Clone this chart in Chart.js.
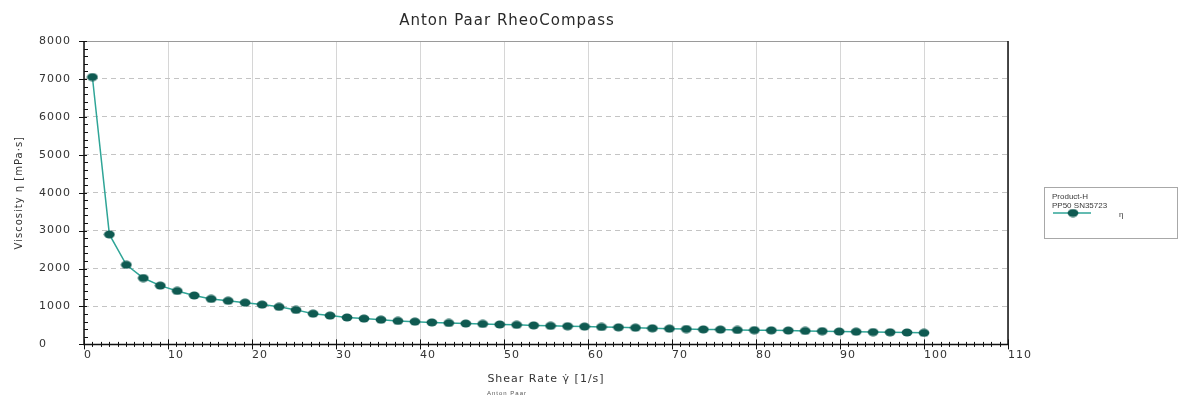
<!DOCTYPE html>
<html>
<head>
<meta charset="utf-8">
<script src="https://cdn.jsdelivr.net/npm/chart.js@4/dist/chart.umd.min.js"></script>
<style>
  html, body { margin: 0; padding: 0; background: #fff; }
  #wrap { width: 1185px; height: 401px; }
</style>
</head>
<body>
<div id="wrap"><canvas id="rheoChart" width="1185" height="401"></canvas></div>
<script>
// shear rate [1/s]
const shearRate = [1, 3.02, 5.04, 7.06, 9.08, 11.1, 13.12, 15.14, 17.16, 19.18,
  21.2, 23.22, 25.24, 27.27, 29.29, 31.31, 33.33, 35.35, 37.37, 39.39,
  41.41, 43.43, 45.45, 47.47, 49.49, 51.51, 53.53, 55.55, 57.57, 59.59,
  61.61, 63.63, 65.65, 67.67, 69.69, 71.71, 73.73, 75.76, 77.78, 79.8,
  81.82, 83.84, 85.86, 87.88, 89.9, 91.92, 93.94, 95.96, 97.98, 100];
// viscosity [mPa·s]
const viscosity = [7050, 2900, 2100, 1750, 1550, 1410, 1290, 1200, 1150, 1100,
  1050, 990, 910, 810, 760, 710, 680, 650, 620, 600,
  580, 565, 550, 540, 525, 515, 500, 490, 480, 470,
  460, 450, 440, 425, 415, 405, 395, 390, 380, 375,
  370, 365, 355, 350, 340, 335, 325, 320, 315, 305];
const legendLines = ['Product-H', 'PP50 SN35723'];

const FONT = '"DejaVu Sans", "Liberation Sans", sans-serif';
const SMALL = '"Liberation Sans", Arial, sans-serif';
const lineColor = '#2fa597';
const markColor = '#0f5a51';

// slightly flattened dot, like the exported picture
const dot = document.createElement('canvas');
dot.width = 12; dot.height = 9;
(function () {
  const d = dot.getContext('2d');
  d.fillStyle = markColor;
  d.beginPath(); d.ellipse(6, 4.5, 5.4, 4, 0, 0, Math.PI * 2); d.fill();
})();

// stretched look of the text
const spacing = {
  id: 'spacing',
  beforeUpdate(chart) { chart.ctx.letterSpacing = '1px'; },
  beforeDraw(chart) { chart.ctx.letterSpacing = '1px'; }
};

// minor ticks, frame and legend box
const decor = {
  id: 'decor',
  afterDraw(chart) {
    const c = chart.ctx, a = chart.chartArea;
    const xs = chart.scales.x, ys = chart.scales.y;
    c.save();
    c.letterSpacing = '0px';
    c.lineWidth = 1;
    c.strokeStyle = '#9a9a9a';
    c.beginPath(); c.moveTo(a.left, a.top + 0.5); c.lineTo(a.right, a.top + 0.5); c.stroke();
    c.strokeStyle = '#111';
    c.lineWidth = 1.5;
    c.beginPath();
    c.moveTo(a.right, a.top); c.lineTo(a.right, a.bottom);
    c.moveTo(a.left, a.top); c.lineTo(a.left, a.bottom); c.lineTo(a.right, a.bottom);
    c.stroke();
    c.lineWidth = 1;
    c.beginPath();
    for (let v = 0; v <= 110; v += 1) {
      const px = Math.round(xs.getPixelForValue(v)) + 0.5;
      const len = v % 10 === 0 ? 5 : 2.5;
      c.moveTo(px, a.bottom - len); c.lineTo(px, a.bottom + len);
    }
    for (let v = 0; v <= 8000; v += 200) {
      const py = Math.round(ys.getPixelForValue(v)) + 0.5;
      if (v % 1000 === 0) { c.moveTo(a.left - 5, py); c.lineTo(a.left + 3, py); }
      else { c.moveTo(a.left, py); c.lineTo(a.left + 4, py); }
    }
    c.stroke();

    // legend
    const ds = chart.data.datasets[0];
    const bx = 1044, by = 187, bw = 133, bh = 51;
    c.strokeStyle = '#a8a8a8';
    c.strokeRect(bx + 0.5, by + 0.5, bw, bh);
    c.fillStyle = '#3a3a3a';
    c.font = '8px ' + SMALL;
    c.textBaseline = 'middle';
    c.textAlign = 'left';
    legendLines.forEach((t, i) => c.fillText(t, bx + 8, by + 10 + i * 9));
    const ly = by + 26;
    c.strokeStyle = ds.borderColor;
    c.lineWidth = 1.5;
    c.beginPath(); c.moveTo(bx + 9, ly); c.lineTo(bx + 47, ly); c.stroke();
    c.drawImage(dot, bx + 23, ly - 4.5);
    c.fillText(ds.label, bx + 75, ly + 2);
    c.restore();
  }
};

const ctx = document.getElementById('rheoChart');

new Chart(ctx, {
  type: 'scatter',
  data: {
    datasets: [{
      label: 'η',
      data: shearRate.map((x, i) => ({ x: x, y: viscosity[i] })),
      showLine: true,
      borderColor: lineColor,
      borderWidth: 1.5,
      pointStyle: dot,
      pointRadius: 5,
      pointHoverRadius: 5
    }]
  },
  options: {
    responsive: false,
    animation: false,
    layout: { padding: { top: 0, left: 6, right: 177, bottom: 2 } },
    plugins: {
      legend: { display: false },
      tooltip: { enabled: false },
      title: {
        display: true,
        text: 'Anton Paar RheoCompass',
        color: '#2a2a2a',
        font: { family: FONT, size: 15, weight: 'normal' },
        padding: { top: 12, bottom: 11 }
      },
      subtitle: {
        display: true,
        position: 'bottom',
        text: 'Anton Paar',
        color: '#555',
        font: { family: SMALL, size: 6 },
        padding: { top: 4, bottom: 2 }
      }
    },
    scales: {
      x: {
        type: 'linear',
        min: 0, max: 110,
        ticks: {
          stepSize: 10, align: 'start', color: '#333',
          font: { family: FONT, size: 11 }, padding: 4,
          callback: v => String(v)
        },
        grid: { color: '#d6d6d6', lineWidth: 1, drawTicks: false },
        border: { display: false },
        title: {
          display: true,
          text: 'Shear Rate γ̇ [1/s]',
          color: '#333',
          font: { family: FONT, size: 11 },
          padding: { top: 7, bottom: 0 }
        }
      },
      y: {
        min: 0, max: 8000,
        weight: 0,
        afterFit: s => { s.width = 45; },
        ticks: {
          stepSize: 1000, crossAlign: 'far', color: '#333',
          font: { family: FONT, size: 11 },
          callback: v => String(v)
        },
        grid: { color: '#c4c4c4', lineWidth: 1, drawTicks: false },
        border: { display: false, dash: [5, 4] }
      },
      yTitle: {
        type: 'linear',
        position: 'left',
        weight: 1,
        min: 0, max: 1,
        afterFit: s => { s.width = 33; },
        ticks: { display: false },
        grid: { display: false, drawTicks: false },
        border: { display: false },
        title: {
          display: true,
          text: 'Viscosity η [mPa·s]',
          color: '#333',
          font: { family: FONT, size: 10 },
          padding: { top: 7, bottom: 0 }
        }
      }
    }
  },
  plugins: [spacing, decor]
});
</script>
</body>
</html>
